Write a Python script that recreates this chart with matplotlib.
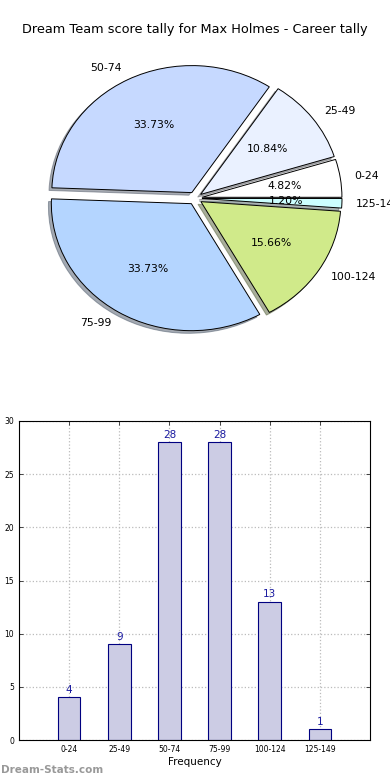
import matplotlib
matplotlib.use('Agg')
import matplotlib.pyplot as plt
import numpy as np

# score tally data
intervals = ['0-24', '25-49', '50-74', '75-99', '100-124', '125-149']
counts = [4, 9, 28, 28, 13, 1]
slice_colors = ['#ffffff', '#eaf1ff', '#c6d9ff', '#b4d5ff', '#d0ea8a', '#ccffff']
title = 'Dream Team score tally for Max Holmes - Career tally'

fig = plt.figure(figsize=(3.9, 7.8), dpi=100)
fig.text(0.5, 1 - 30 / 780, title, ha='center', va='center', fontsize=9.3)

# pie (old-style, not forced to equal aspect)
ax1 = fig.add_axes([20 / 390, (780 - 357) / 780, 350 / 390, 317.5 / 780])
wedges, texts, autotexts = ax1.pie(
    counts, labels=intervals, colors=slice_colors, autopct='%1.2f%%',
    explode=[0.05] * len(counts),
    shadow={'ox': -0.015, 'oy': -0.015, 'shade': 0.6},
    startangle=0,
    wedgeprops={'edgecolor': 'black', 'linewidth': 0.7},
    textprops={'fontsize': 7.8})
ax1.set_aspect('auto')
ax1.set_xlim(-1.25, 1.25)
ax1.set_ylim(-1.25, 1.25)

# bar chart
ax2 = fig.add_axes([19 / 390, 40 / 780, 351 / 390, 319 / 780])
x = np.arange(len(intervals))
ax2.bar(x, counts, width=0.45, color='#ccccE4', edgecolor='#000080',
        linewidth=0.8, zorder=2)
for xi, v in zip(x, counts):
    ax2.text(xi, v + 0.25, str(v), ha='center', va='bottom',
             fontsize=7.5, color='#1a1aa0', zorder=3)
ax2.set_xlim(-1, 6)
ax2.set_ylim(0, 30)
ax2.set_xticks(x)
ax2.set_xticklabels(intervals)
ax2.set_yticks(range(0, 31, 5))
ax2.tick_params(labelsize=5.5, direction='in', top=True, right=True,
                length=3, width=0.5)
ax2.grid(True, linestyle=':', color='#bbbbbb', linewidth=0.9, zorder=0)
ax2.set_axisbelow(True)
ax2.set_xlabel('Frequency', fontsize=7.5, labelpad=2)
ax2.set_ylabel('Score Interval', fontsize=7)
ax2.yaxis.set_label_coords(-0.052, 0.5)

fig.text(1 / 390, 1 - 770 / 780, 'Dream-Stats.com', ha='left', va='center',
         fontsize=7.5, color='#999999', fontweight='bold')

fig.savefig('out.png', dpi=100)
